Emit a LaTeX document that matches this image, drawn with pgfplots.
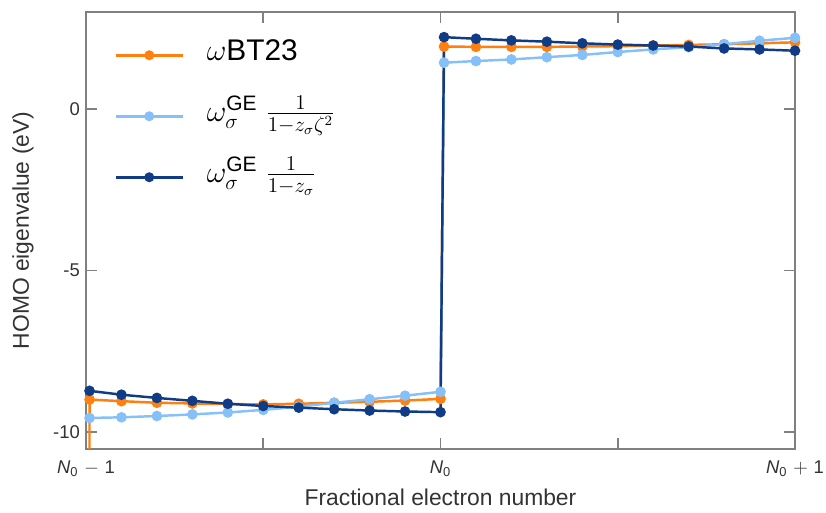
\documentclass[border=0pt]{standalone}
\usepackage{amsmath}
\usepackage{fontspec}
\setmainfont{Liberation Sans}
\usepackage{pgfplots}
\pgfplotsset{compat=1.18}

\definecolor{cOrange}{HTML}{FF8010}
\definecolor{cLight}{HTML}{85C0F9}
\definecolor{cDark}{HTML}{0F3C84}
\definecolor{cAxis}{HTML}{808080}

\newcommand{\Nz}{\textit{N}\textsubscript{0}}

\begin{document}
\begin{tikzpicture}
\begin{axis}[
    width=14.18cm, height=8.74cm,
    scale only axis,
    xmin=-1, xmax=1,
    ymin=-10.53, ymax=3.0,
    xtick={-1,-0.5,0,0.5,1},
    xticklabels={\Nz\hspace{0.3em}$-$\hspace{0.3em}1, , \Nz, , \Nz\hspace{0.3em}$+$\hspace{0.3em}1},
    ytick={-10,-5,0},
    yticklabels={-10,-5,0},
    tick align=inside,
    major tick length=0.22cm,
    axis line style={cAxis, line width=0.9pt},
    tick style={cAxis, line width=0.9pt},
    tick label style={font=\fontsize{10.5}{12}\selectfont, text=black!80},
    xticklabel style={yshift=-3.4pt},
    label style={font=\fontsize{13}{15}\selectfont, text=black!80},
    xlabel={Fractional electron number},
    ylabel={HOMO eigenvalue (eV)},
    xlabel style={at={(axis description cs:0.5,-0.11)}, anchor=center},
    ylabel style={at={(axis description cs:-0.089,0.5)}, anchor=center},
    legend cell align=left,
    legend style={draw=none, fill=none, inner sep=0pt,
        at={(axis description cs:0.0395,0.9418)}, anchor=north west,
        font=\fontsize{17}{20}\selectfont, row sep=0.52cm,
        nodes={inner sep=0pt, text height=0.45cm, text depth=0.25cm}},
    legend image code/.code={
        \draw[#1, mark repeat=2, mark phase=2, mark size=2pt, line width=1.6pt]
            plot coordinates {(0cm,0cm) (0.67cm,0cm) (1.34cm,0cm)};
        \path[draw=none, fill=none] (1.34cm,0cm) -- (1.82cm,0cm);
    },
    every axis plot/.append style={line width=1.4pt, mark=*, mark size=2.3pt},
]
\addplot[cOrange, mark options={fill=cOrange}] coordinates {
    (-1,-100) (-0.99,-9.00) (-0.9,-9.05) (-0.8,-9.10) (-0.7,-9.12) (-0.6,-9.14)
    (-0.5,-9.15) (-0.4,-9.13) (-0.3,-9.10) (-0.2,-9.07) (-0.1,-9.03) (0,-8.98)
    (0.01,1.93) (0.1,1.92) (0.2,1.92) (0.3,1.92) (0.4,1.93) (0.5,1.94)
    (0.6,1.96) (0.7,1.98) (0.8,2.00) (0.9,2.03) (1.0,2.06)
};
\addlegendentry{$\omega$BT23}
\addplot[cLight, mark options={fill=cLight}] coordinates {
    (-0.99,-9.57) (-0.9,-9.55) (-0.8,-9.51) (-0.7,-9.46) (-0.6,-9.40)
    (-0.5,-9.32) (-0.4,-9.22) (-0.3,-9.10) (-0.2,-8.99) (-0.1,-8.88) (0,-8.76)
    (0.01,1.43) (0.1,1.48) (0.2,1.53) (0.3,1.60) (0.4,1.67) (0.5,1.76)
    (0.6,1.84) (0.7,1.91) (0.8,2.00) (0.9,2.11) (1.0,2.20)
};
\addlegendentry{$\omega_\sigma^{\text{GE}}\ \frac{1}{1-z_\sigma\zeta^2}$}
\addplot[cDark, mark options={fill=cDark}] coordinates {
    (-0.99,-8.73) (-0.9,-8.85) (-0.8,-8.95) (-0.7,-9.04) (-0.6,-9.13)
    (-0.5,-9.20) (-0.4,-9.25) (-0.3,-9.30) (-0.2,-9.34) (-0.1,-9.37) (0,-9.39)
    (0.01,2.22) (0.1,2.17) (0.2,2.12) (0.3,2.08) (0.4,2.03) (0.5,1.99)
    (0.6,1.96) (0.7,1.93) (0.8,1.87) (0.9,1.84) (1.0,1.80)
};
\addlegendentry{$\omega_\sigma^{\text{GE}}\ \frac{1}{1-z_\sigma}$}
\end{axis}
% page size as in the reference: room for labels round the axis box
\pgfresetboundingbox
\path ([shift={(-1.72cm,-1.26cm)}]current axis.south west)
    rectangle ([shift={(0.62cm,0.24cm)}]current axis.north east);
\end{tikzpicture}
\end{document}
